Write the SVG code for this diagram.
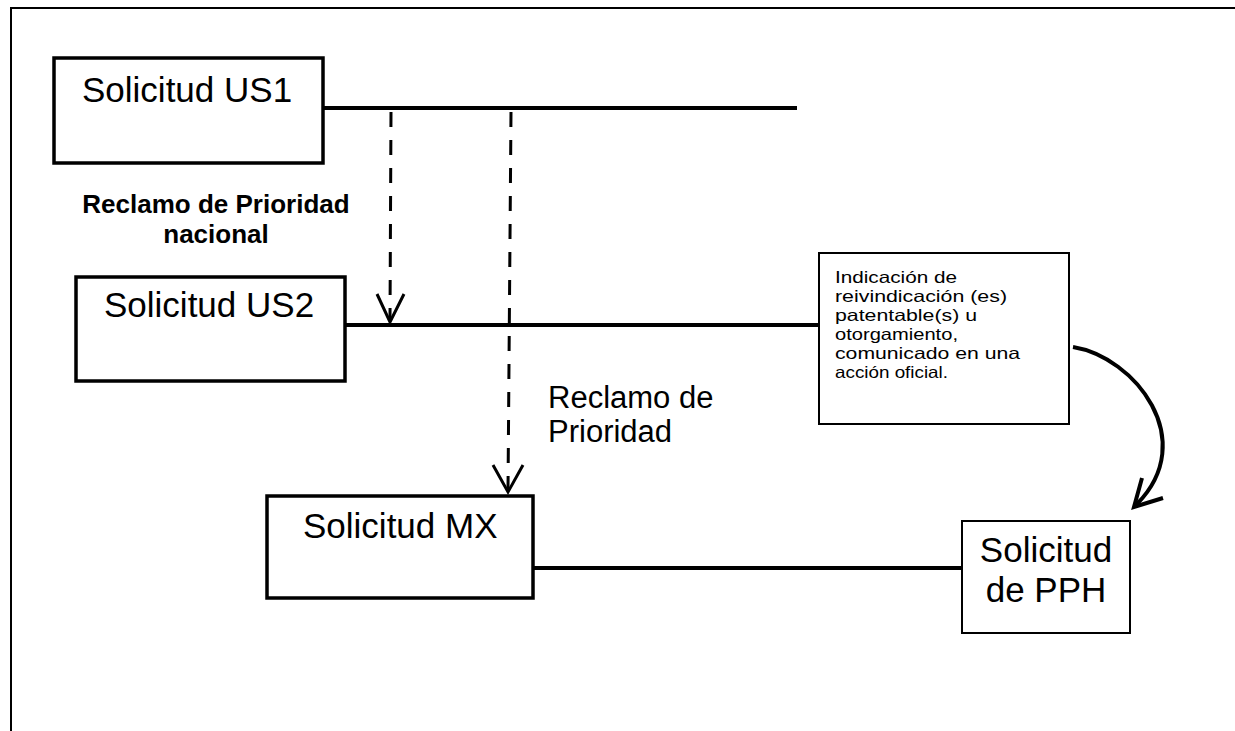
<svg xmlns="http://www.w3.org/2000/svg" width="1235" height="731" viewBox="0 0 1235 731">
<style>
.box{fill:#fff;stroke:#000;stroke-width:3.5}
.thin{fill:#fff;stroke:#000;stroke-width:2}
.big{font-family:"Liberation Sans",Arial,sans-serif;font-size:35px;fill:#000}
.small{font-family:"Liberation Sans",Arial,sans-serif;font-size:16.5px;fill:#000}
.bold{font-family:"Liberation Sans",Arial,sans-serif;font-size:26px;font-weight:bold;fill:#000}
.solid{fill:none;stroke:#000;stroke-width:4}
.dash{fill:none;stroke:#000;stroke-width:3;stroke-dasharray:15 13}
.head{fill:none;stroke:#000;stroke-width:3;stroke-linejoin:miter}
</style>
<rect width="1235" height="731" fill="#fff"/>
<path d="M11,731 V8 H1235" fill="none" stroke="#000" stroke-width="2"/>
<g id="connectors">
<line class="solid" x1="323" y1="108" x2="797" y2="108"/>
<line class="solid" x1="345" y1="325" x2="819" y2="325"/>
<line class="solid" x1="533" y1="568" x2="962" y2="568"/>
<line class="dash" x1="391" y1="112" x2="390" y2="320"/>
<polyline class="head" points="377,294 390,322 404,294"/>
<line class="dash" x1="511" y1="112" x2="508" y2="490"/>
<polyline class="head" points="493,465 508,492 523,465"/>
<path class="solid" d="M1073,347 C1135,357 1200,440 1137,504"/>
<polyline class="solid" points="1142,478 1134,507 1163,498"/>
</g>
<g id="us1">
<rect class="box" x="54" y="58" width="269" height="105"/>
<text class="big" x="82" y="102">Solicitud US1</text>
</g>
<g id="label-nacional">
<text class="bold" x="216" y="213" text-anchor="middle">Reclamo de Prioridad</text>
<text class="bold" x="216" y="243" text-anchor="middle">nacional</text>
</g>
<g id="us2">
<rect class="box" x="76" y="277" width="269" height="104"/>
<text class="big" x="104" y="317">Solicitud US2</text>
</g>
<g id="indicacion">
<rect class="thin" x="819" y="253" width="250" height="171"/>
<text class="small" x="835" y="283" textLength="122" lengthAdjust="spacingAndGlyphs">Indicación de</text>
<text class="small" x="835" y="302" textLength="172" lengthAdjust="spacingAndGlyphs">reivindicación (es)</text>
<text class="small" x="835" y="321" textLength="142" lengthAdjust="spacingAndGlyphs">patentable(s) u</text>
<text class="small" x="835" y="340" textLength="123" lengthAdjust="spacingAndGlyphs">otorgamiento,</text>
<text class="small" x="835" y="359" textLength="185" lengthAdjust="spacingAndGlyphs">comunicado en una</text>
<text class="small" x="835" y="378" textLength="113" lengthAdjust="spacingAndGlyphs">acción oficial.</text>
</g>
<g id="label-prioridad">
<text class="big" x="548" y="408" style="font-size:31px">Reclamo de</text>
<text class="big" x="548" y="442" style="font-size:31px">Prioridad</text>
</g>
<g id="mx">
<rect class="box" x="267" y="496" width="266" height="102"/>
<text class="big" x="303" y="538">Solicitud MX</text>
</g>
<g id="pph">
<rect class="thin" x="962" y="521" width="168" height="112"/>
<text class="big" x="1046" y="562" text-anchor="middle">Solicitud</text>
<text class="big" x="1046" y="602" text-anchor="middle">de PPH</text>
</g>
</svg>
